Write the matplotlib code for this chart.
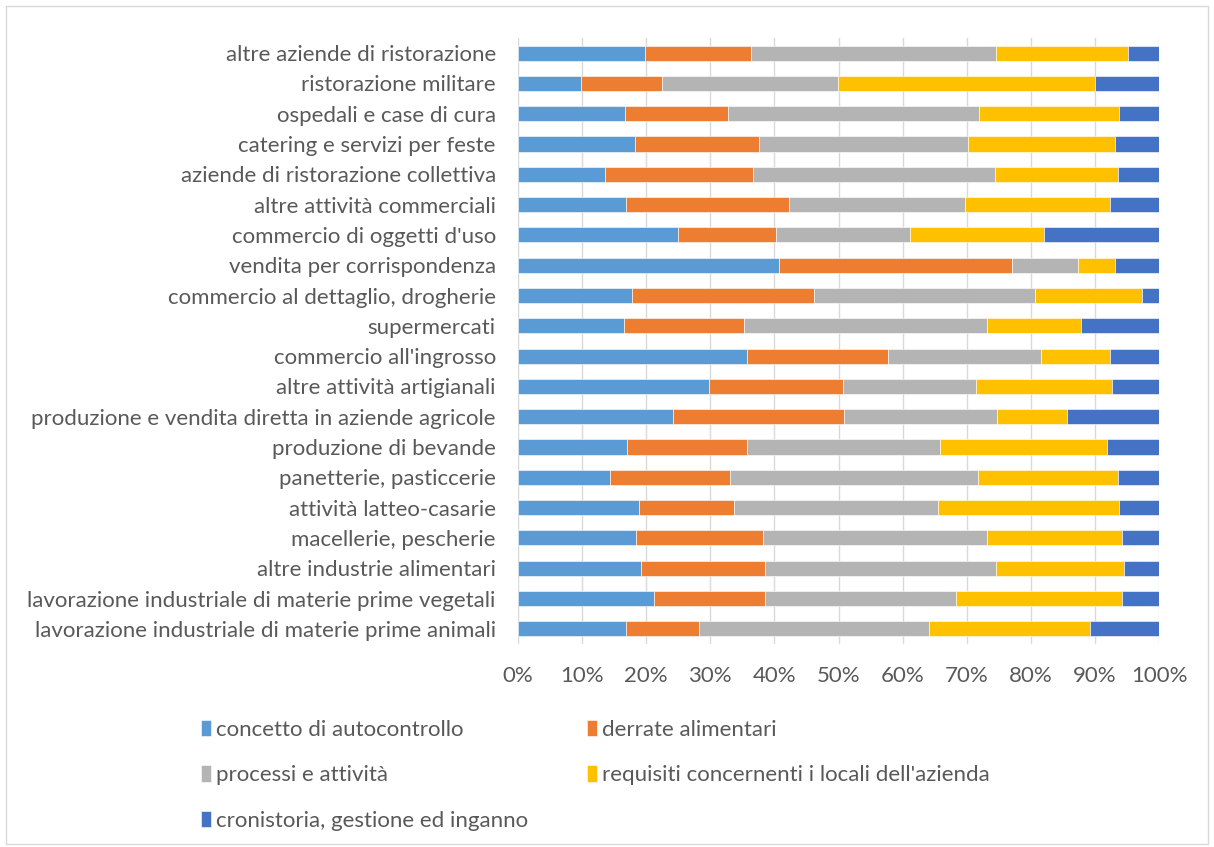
import matplotlib.pyplot as plt
import numpy as np
from matplotlib.patches import Rectangle

categories = [
    "altre aziende di ristorazione",
    "ristorazione militare",
    "ospedali e case di cura",
    "catering e servizi per feste",
    "aziende di ristorazione collettiva",
    "altre attività commerciali",
    "commercio di oggetti d'uso",
    "vendita per corrispondenza",
    "commercio al dettaglio, drogherie",
    "supermercati",
    "commercio all'ingrosso",
    "altre attività artigianali",
    "produzione e vendita diretta in aziende agricole",
    "produzione di bevande",
    "panetterie, pasticcerie",
    "attività latteo-casarie",
    "macellerie, pescherie",
    "altre industrie alimentari",
    "lavorazione industriale di materie prime vegetali",
    "lavorazione industriale di materie prime animali",
]

autocontrollo = [19.8, 9.9, 16.7, 18.3, 13.6, 16.8, 25.0, 40.7, 17.8, 16.5,
                 35.7, 29.8, 24.2, 17.0, 14.4, 18.9, 18.4, 19.2, 21.2, 16.8]
derrate = [16.5, 12.5, 16.0, 19.3, 23.0, 25.4, 15.3, 36.4, 28.4, 18.8,
           22.0, 20.9, 26.7, 18.7, 18.6, 14.8, 19.8, 19.3, 17.4, 11.4]
processi = [38.3, 27.5, 39.2, 32.6, 37.8, 27.6, 20.8, 10.2, 34.4, 37.8,
            23.9, 20.8, 23.8, 30.2, 38.7, 31.8, 35.0, 36.1, 29.7, 35.9]
requisiti = [20.5, 40.1, 21.8, 22.9, 19.2, 22.5, 21.0, 5.8, 16.8, 14.7,
             10.8, 21.1, 10.9, 26.0, 21.9, 28.2, 21.0, 20.0, 25.9, 25.1]
cronistoria = [4.9, 10.0, 6.3, 6.9, 6.4, 7.7, 17.9, 6.9, 2.6, 12.2,
               7.6, 7.4, 14.4, 8.1, 6.4, 6.3, 5.8, 5.4, 5.8, 10.8]

series_names = [
    "concetto di autocontrollo",
    "derrate alimentari",
    "processi e attività",
    "requisiti concernenti i locali dell'azienda",
    "cronistoria, gestione ed inganno",
]
colors = ["#5B9BD5", "#ED7D31", "#B4B4B4", "#FFC000", "#4472C4"]

plt.rcParams['font.family'] = ['Lato', 'DejaVu Sans']
text_color = "#595959"

fig = plt.figure(figsize=(12.14, 8.47), dpi=100)
ax = fig.add_axes([0.4267, 0.2397, 0.528, 0.7155])

data = np.array([autocontrollo, derrate, processi, requisiti, cronistoria])
data = data / data.sum(axis=0) * 100
y = np.arange(len(categories))[::-1]

handles = []
left = np.zeros(len(categories))
for vals, name, c in zip(data, series_names, colors):
    h = ax.barh(y, vals, left=left, height=0.5, color=c, label=name,
                edgecolor="white", linewidth=0.4, zorder=3)
    handles.append(h)
    left += vals

ax.set_xlim(0, 100)
ax.set_ylim(-0.5, len(categories) - 0.5)
ax.set_xticks(np.arange(0, 101, 10))
ax.set_xticklabels([f"{t}%" for t in range(0, 101, 10)])
ax.set_yticks(y)
ax.set_yticklabels(categories)
ax.tick_params(axis="both", length=0, colors=text_color, labelsize=16)
ax.tick_params(axis="x", pad=16)
ax.tick_params(axis="y", pad=16)
ax.grid(axis="x", color="#D9D9D9", linewidth=1, zorder=0)
for s in ax.spines.values():
    s.set_visible(False)

order = [0, 2, 4, 1, 3]
leg = fig.legend([handles[i] for i in order], [series_names[i] for i in order],
                 ncol=2, loc="upper left", bbox_to_anchor=(0.158, 0.161),
                 frameon=False, fontsize=16, handlelength=0.45, handleheight=0.75,
                 handletextpad=0.25, labelspacing=1.16, columnspacing=2.62,
                 borderaxespad=0)
for t in leg.get_texts():
    t.set_color(text_color)

fig.patches.append(Rectangle((0.005, 0.003), 0.99, 0.99, transform=fig.transFigure,
                             fill=False, edgecolor="#D9D9D9", linewidth=1))

fig.savefig("out.png", dpi=100)
